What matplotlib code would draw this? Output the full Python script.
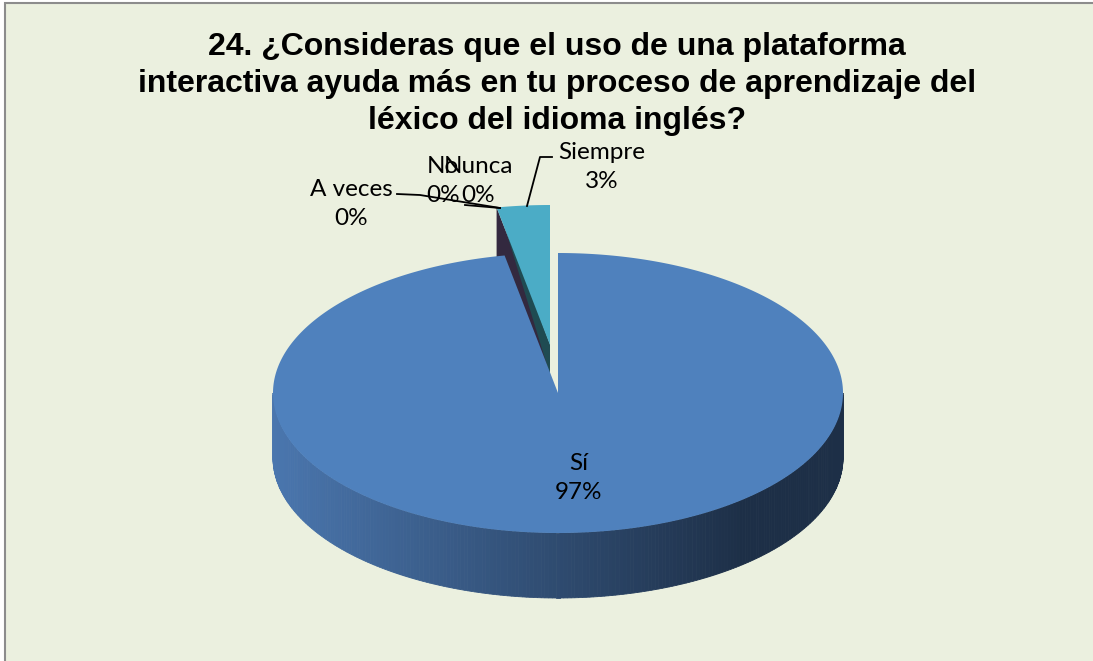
import numpy as np
import matplotlib
matplotlib.use("Agg")
import matplotlib.pyplot as plt
from matplotlib.patches import Polygon, Rectangle
from matplotlib.colors import to_rgb

# ---- data ----
title = "24. ¿Consideras que el uso de una plataforma\ninteractiva ayuda más en tu proceso de aprendizaje del\nléxico del idioma inglés?"
categories = ["Sí", "A veces", "No", "Nunca", "Siempre"]
values = [97, 0, 0, 0, 3]
pct_labels = ["97%", "0%", "0%", "0%", "3%"]
colors = ["#4F81BD", "#C0504D", "#9BBB59", "#8064A2", "#4BACC6"]

W, H = 1093, 661
fig = plt.figure(figsize=(W / 100, H / 100), dpi=100)
fig.patch.set_facecolor("white")
ax = fig.add_axes([0, 0, 1, 1])
ax.set_xlim(0, W)
ax.set_ylim(H, 0)
ax.axis("off")

ax.add_patch(Rectangle((5, 3), W, H, facecolor="#EBF0DF", edgecolor="#8C8C8C", lw=1.5, zorder=0))

# pie geometry (layout)
cx, cy, a, b, depth = 558, 393, 285, 140, 65
explode_off = {4: (-8, -48)}

def pt(t, off=(0, 0)):
    return cx + a * np.sin(t) + off[0], cy - b * np.cos(t) + off[1]

total = float(sum(values))
starts = np.concatenate([[0], np.cumsum(values)[:-1]]) / total * 2 * np.pi
ends = np.cumsum(values) / total * 2 * np.pi

def lerp(c1, c2, f):
    c1, c2 = np.array(to_rgb(c1)), np.array(to_rgb(c2))
    return tuple(c1 + (c2 - c1) * f)

# --- exploded small slice (Siempre) drawn behind ---
i = 4
off = explode_off[i]
t1, t2 = starts[i], ends[i]
A = (cx + off[0], cy + off[1])
R = pt(t1, off)
ax.add_patch(Polygon([A, R, (R[0], R[1] + depth), (A[0], A[1] + depth)],
                     closed=True, facecolor="#33293F", edgecolor="none", zorder=1))
ax.add_patch(Polygon([(A[0], A[1]), (R[0] + 4, R[1]), (R[0] + 4, R[1] + 6), (A[0], A[1] + 30)],
                     closed=True, facecolor="#1F4B52", edgecolor="none", zorder=1.5))
ts = np.linspace(t1, t2, 20)
arc = [pt(t, off) for t in ts]
ax.add_patch(Polygon([A] + arc, closed=True, facecolor=colors[i], edgecolor="none", zorder=2))

# --- main slice (Sí) ---
i = 0
t1, t2 = starts[i], ends[i]
tv = np.linspace(max(t1, np.pi / 2), min(t2, 3 * np.pi / 2), 240)
for k in range(len(tv) - 1):
    p1 = pt(tv[k]); p2 = pt(tv[k + 1])
    xm = 0.5 * (p1[0] + p2[0])
    f = np.clip((xm - (cx - a)) / 470, 0, 1)
    col = lerp("#4A76AE", "#1D2F47", f)
    ax.add_patch(Polygon([p1, p2, (p2[0], p2[1] + depth), (p1[0], p1[1] + depth)],
                         closed=True, facecolor=col, edgecolor=col, lw=0.6, zorder=3))
ts = np.linspace(t1, t2, 400)
arc = [pt(t) for t in ts]
ax.add_patch(Polygon([(cx, cy)] + arc, closed=True, facecolor=colors[i], edgecolor="none", zorder=4))

# --- title ---
ax.text(557, 84, title, ha="center", va="center", fontsize=23, fontweight="bold",
        family="Liberation Sans", linespacing=1.3, zorder=6)

# --- labels ---
lab_font = dict(family="Lato", fontsize=17.5, ha="center", va="center", zorder=6)
label_pos = {0: (579, 478), 1: (351, 204), 2: (443, 181), 3: (478, 181), 4: (602, 167)}
for j, (x, y) in label_pos.items():
    ax.text(x, y, categories[j] + "\n" + pct_labels[j], linespacing=1.5, **lab_font)

# leader lines
ax.plot([397, 420, 500], [194, 195, 208], color="black", lw=1.3, zorder=5)
ax.plot([465, 500], [205, 208], color="black", lw=1.3, zorder=5)
ax.plot([552, 540, 527], [157, 157, 206], color="black", lw=1.3, zorder=5)

fig.savefig("out.png", dpi=100, facecolor=fig.get_facecolor())
